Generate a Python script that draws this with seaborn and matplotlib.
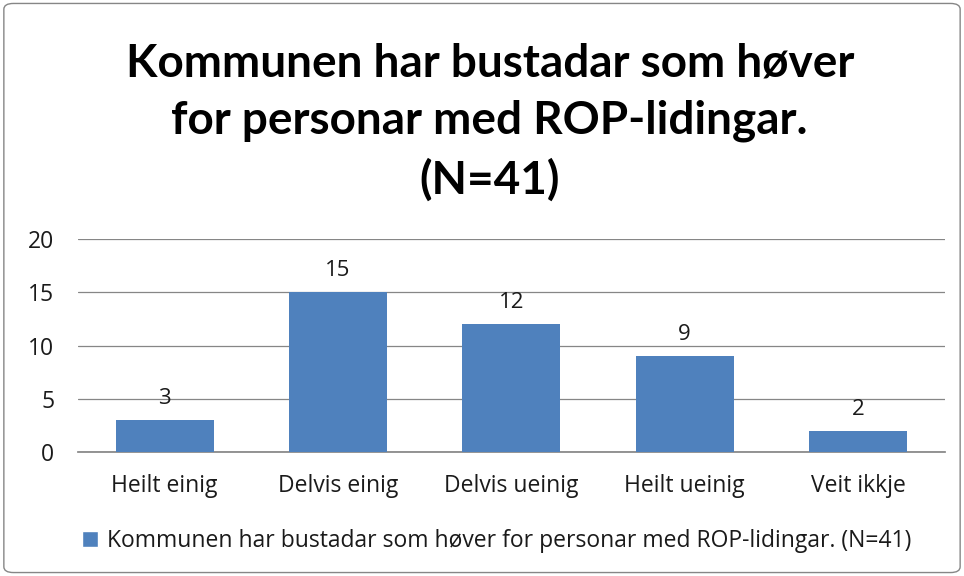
import matplotlib
matplotlib.use("Agg")
import matplotlib.pyplot as plt
import seaborn as sns
import pandas as pd
from matplotlib.patches import FancyBboxPatch, Patch

categories = ["Heilt einig", "Delvis einig", "Delvis ueinig", "Heilt ueinig", "Veit ikkje"]
values = [3, 15, 12, 9, 2]
series_name = "Kommunen har bustadar som høver for personar med ROP-lidingar. (N=41)"
title = "Kommunen har bustadar som høver\nfor personar med ROP-lidingar.\n(N=41)"
yticks = [0, 5, 10, 15, 20]

bar_color = "#4F81BD"

sns.set_theme(style="white")
plt.rcParams["font.family"] = ["Open Sans", "DejaVu Sans"]

df = pd.DataFrame({"kategori": categories, "antal": values})

fig = plt.figure(figsize=(9.64, 5.76), dpi=100)
ax = fig.add_axes([0.081, 0.215, 0.899, 0.370])

sns.barplot(data=df, x="kategori", y="antal", color=bar_color, width=0.565,
            saturation=1, linewidth=0, ax=ax, zorder=3)

ax.set_ylim(0, 20)
ax.set_yticks(yticks)
ax.yaxis.grid(True, color="#868686", linewidth=0.9, zorder=0)
for s in ["top", "right", "left"]:
    ax.spines[s].set_visible(False)
ax.spines["bottom"].set_color("#868686")
ax.tick_params(axis="both", labelsize=16.5, colors="#1a1a1a", length=0)
ax.tick_params(axis="x", pad=16)
ax.tick_params(axis="y", pad=17)
ax.set_xlabel("")
ax.set_ylabel("")

for p, v in zip(ax.patches, values):
    ax.annotate(str(v), (p.get_x() + p.get_width() / 2, p.get_height()),
                xytext=(0, 8), textcoords="offset points",
                ha="center", va="bottom", fontsize=16, color="#1a1a1a")

fig.suptitle(title, x=0.508, y=0.927, fontsize=33, fontweight="bold",
             linespacing=1.45, family=["Lato", "DejaVu Sans"], color="black")

handle = Patch(facecolor=bar_color, label=series_name)
fig.legend(handles=[handle], loc="center", bbox_to_anchor=(0.515, 0.061),
           frameon=False, fontsize=16.5, handlelength=0.7, handleheight=0.7,
           handletextpad=0.4, labelcolor="#1a1a1a")

border = FancyBboxPatch((0.004, 0.006), 0.992, 0.988, boxstyle="round,pad=0,rounding_size=0.01",
                        transform=fig.transFigure, fill=False, edgecolor="#868686", linewidth=1)
fig.patches.append(border)

fig.savefig("out.png", dpi=100)
